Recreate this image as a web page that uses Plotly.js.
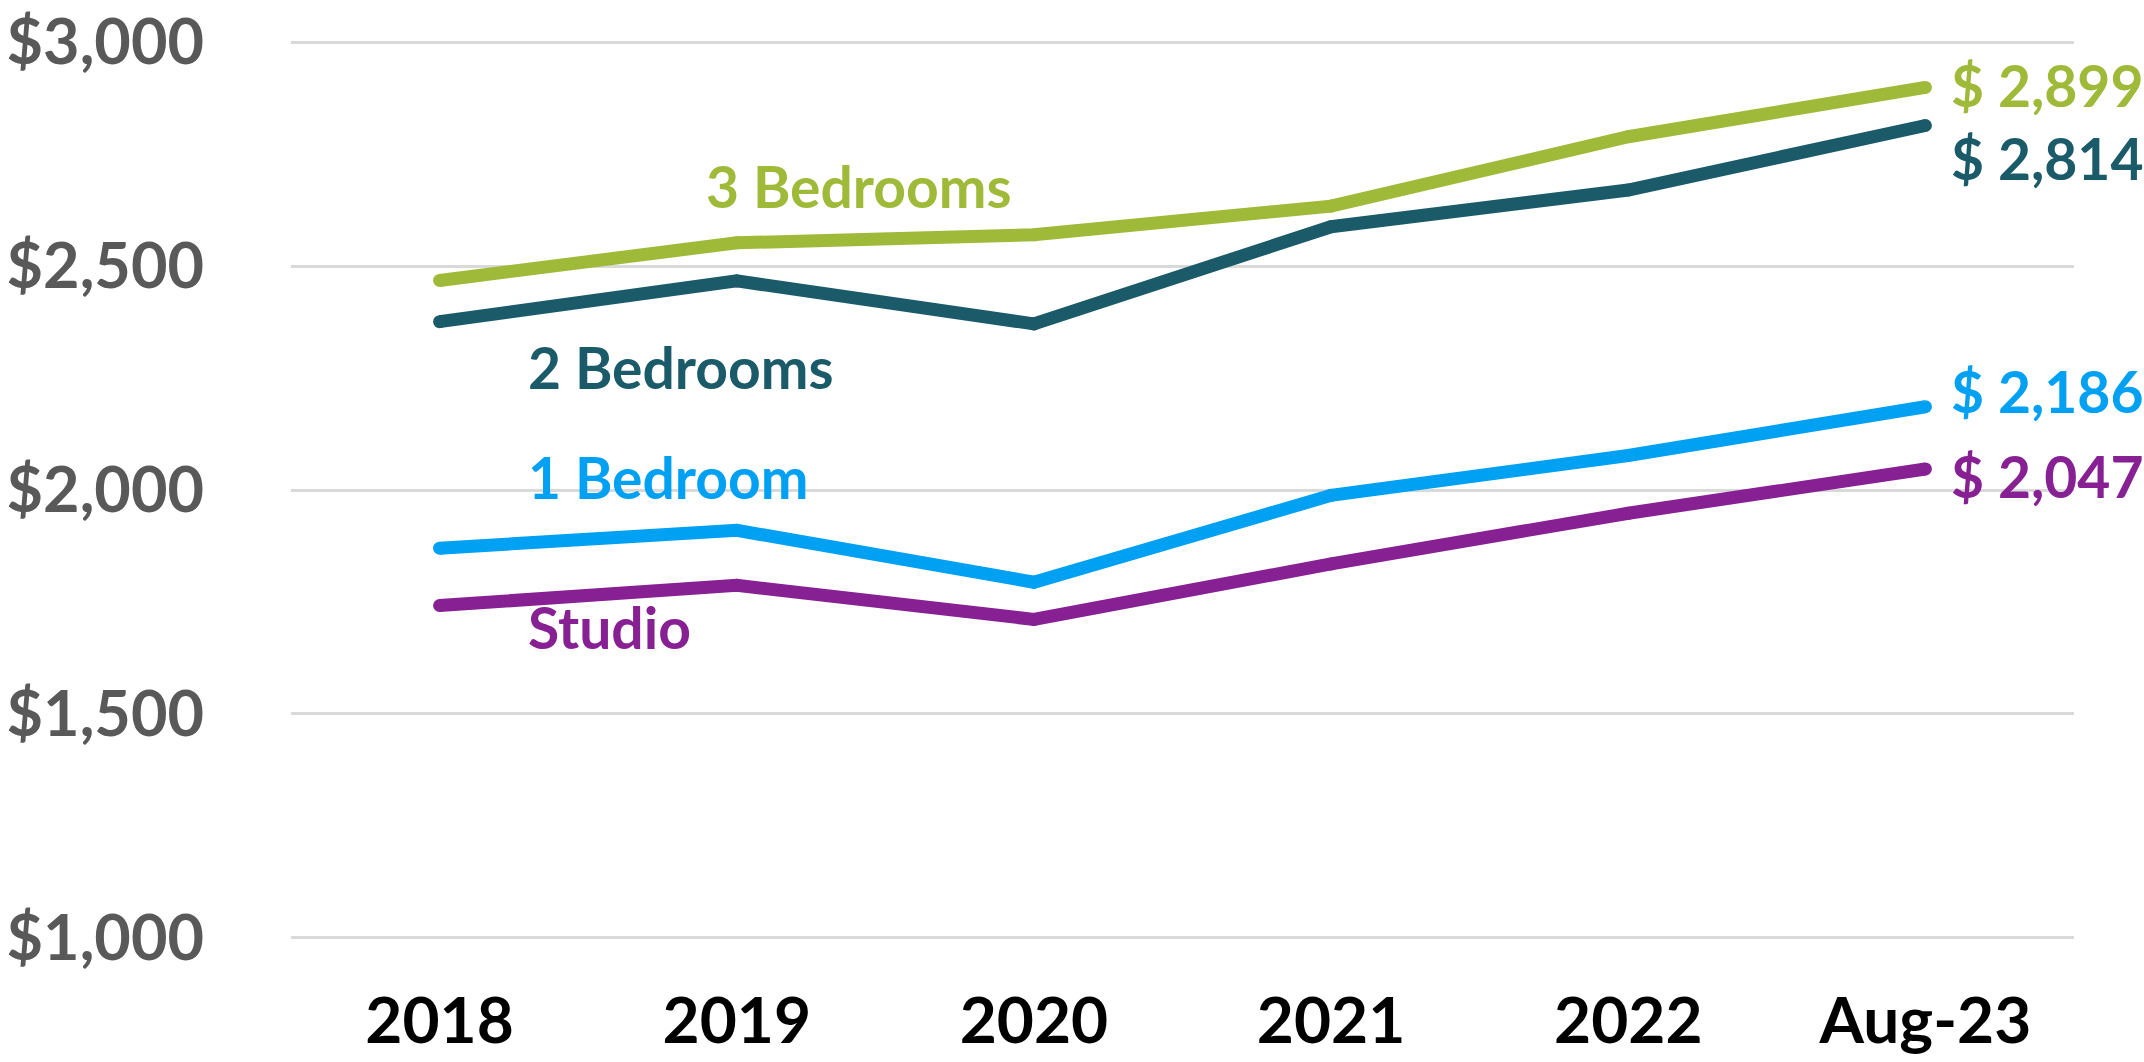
<!DOCTYPE html>
<html>
<head>
<meta charset="utf-8">
<script src="https://cdn.plot.ly/plotly-3.0.1.min.js"></script>
<style>
  html, body { margin: 0; padding: 0; background: #fff; }
  #rentChart { width: 2144px; height: 1062px; }
</style>
</head>
<body>
<div id="rentChart"></div>
<script>
const periods = ["2018", "2019", "2020", "2021", "2022", "Aug-23"];

const threeBed = [2468, 2552, 2570, 2634, 2789, 2899];
const twoBed = [2376, 2467, 2371, 2588, 2670, 2814];
const oneBed = [1870, 1910, 1794, 1988, 2077, 2186];
const studio = [1742, 1787, 1711, 1835, 1948, 2047];

const seriesNames = ["3 Bedrooms", "2 Bedrooms", "1 Bedroom", "Studio"];
const seriesColors = ["#9FBA38", "#1A5A69", "#00A0F2", "#862093"];

const yTicks = [1000, 1500, 2000, 2500, 3000];
const yTickText = ["$1,000", "$1,500", "$2,000", "$2,500", "$3,000"];

function makeTrace(values, i) {
  return {
    x: periods,
    y: values,
    name: seriesNames[i],
    type: "scatter",
    mode: "lines+markers",
    line: { color: seriesColors[i], width: 13 },
    marker: { color: seriesColors[i], size: 13 },
    hoverinfo: "skip",
  };
}

const allSeries = [threeBed, twoBed, oneBed, studio];
const data = allSeries.map(makeTrace);

// where the series names sit (category index, value)
const nameSpots = [
  { x: 0.89, y: 2679 },
  { x: 0.29, y: 2274 },
  { x: 0.29, y: 2029 },
  { x: 0.29, y: 1695 },
];
// end labels nudged off the line ends (pixels)
const endShift = [2, -32, 16, -7];

const labelFont = "Lato, 'Open Sans', sans-serif";

const annotations = [];
seriesNames.forEach((name, i) => {
  annotations.push({
    x: nameSpots[i].x,
    y: nameSpots[i].y,
    xref: "x",
    yref: "y",
    text: "<b>" + name + "</b>",
    showarrow: false,
    xanchor: "left",
    yanchor: "middle",
    font: { family: labelFont, size: 57, color: seriesColors[i] },
  });
  const last = allSeries[i][allSeries[i].length - 1];
  annotations.push({
    x: periods.length - 1,
    y: last,
    xref: "x",
    yref: "y",
    text: "<b>$ " + last.toLocaleString("en-US") + "</b>",
    showarrow: false,
    xanchor: "left",
    yanchor: "middle",
    xshift: 24,
    yshift: endShift[i],
    font: { family: labelFont, size: 57, color: seriesColors[i] },
  });
});

const layout = {
  width: 2144,
  height: 1062,
  margin: { l: 291, r: 70, t: 40, b: 122 },
  paper_bgcolor: "#ffffff",
  plot_bgcolor: "#ffffff",
  showlegend: false,
  xaxis: {
    type: "category",
    range: [-0.5, 5.5],
    showgrid: false,
    zeroline: false,
    showline: false,
    ticks: "",
    ticklabelstandoff: 38,
    tickfont: { family: labelFont, size: 64, color: "#000000", weight: "bold" },
  },
  yaxis: {
    range: [995, 3005],
    tickvals: yTicks,
    ticktext: yTickText,
    showgrid: true,
    gridcolor: "#D9D9D9",
    gridwidth: 3,
    zeroline: false,
    showline: false,
    ticks: "",
    ticklabelstandoff: 86,
    ticklabeloverflow: "allow",
    tickfont: { family: labelFont, size: 63, color: "#595959", weight: "bold" },
  },
  annotations: annotations,
};

Plotly.newPlot("rentChart", data, layout, { staticPlot: true });
</script>
</body>
</html>
